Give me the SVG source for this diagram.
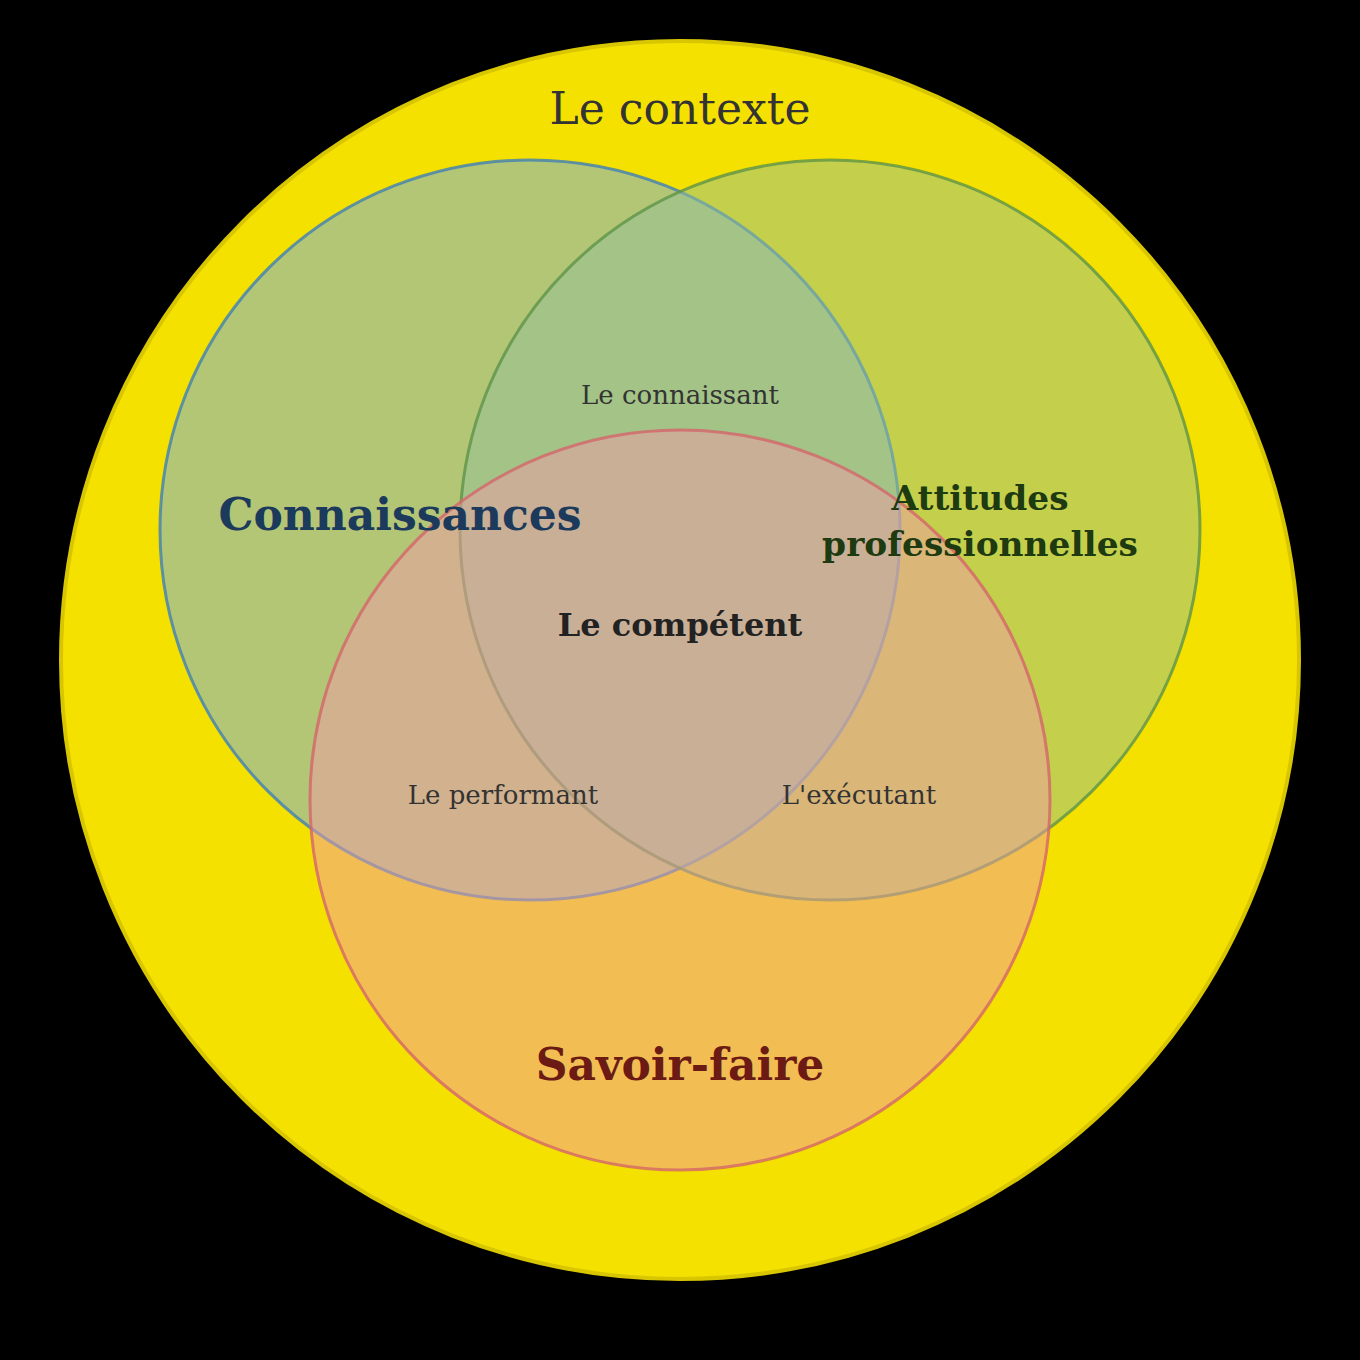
<svg xmlns="http://www.w3.org/2000/svg" width="1360" height="1360" viewBox="0 0 1360 1360">
<style>
.lbl{font-family:"DejaVu Serif",serif;text-anchor:middle}
.small{font-size:26px;fill:#333}
.big{font-size:44px;font-weight:bold}
</style>
<rect width="1360" height="1360" fill="#000"/>
<g id="contexte">
<circle cx="680" cy="660" r="619" fill="#F5E100" stroke="#D8C600" stroke-width="4"/>
<text class="lbl" x="680" y="124" font-size="44" fill="#333">Le contexte</text>
</g>
<g id="connaissances">
<circle cx="530" cy="530" r="370" fill="#72ACEB" fill-opacity="0.5" stroke="#3F7FB8" stroke-opacity="0.8" stroke-width="3"/>
</g>
<g id="attitudes">
<circle cx="830" cy="530" r="370" fill="#93BF98" fill-opacity="0.5" stroke="#5E9448" stroke-opacity="0.8" stroke-width="3"/>
</g>
<g id="savoirfaire">
<circle cx="680" cy="800" r="370" fill="#F09BA5" fill-opacity="0.5" stroke="#D4656A" stroke-opacity="0.8" stroke-width="3"/>
</g>
<g id="labels">
<text class="lbl big" x="400" y="530" fill="#1B3A5C">Connaissances</text>
<text class="lbl" x="980" y="510" font-size="34.4" font-weight="bold" fill="#1E3A10">Attitudes</text>
<text class="lbl" x="980" y="556" font-size="34.4" font-weight="bold" fill="#1E3A10">professionnelles</text>
<text class="lbl big" x="680" y="1080" fill="#6B1A14">Savoir-faire</text>
<text class="lbl" x="680" y="636" font-size="32" font-weight="bold" fill="#222">Le compétent</text>
<text class="lbl small" x="680" y="404">Le connaissant</text>
<text class="lbl small" x="503" y="804">Le performant</text>
<text class="lbl small" x="859" y="804">L'exécutant</text>
</g>
</svg>
